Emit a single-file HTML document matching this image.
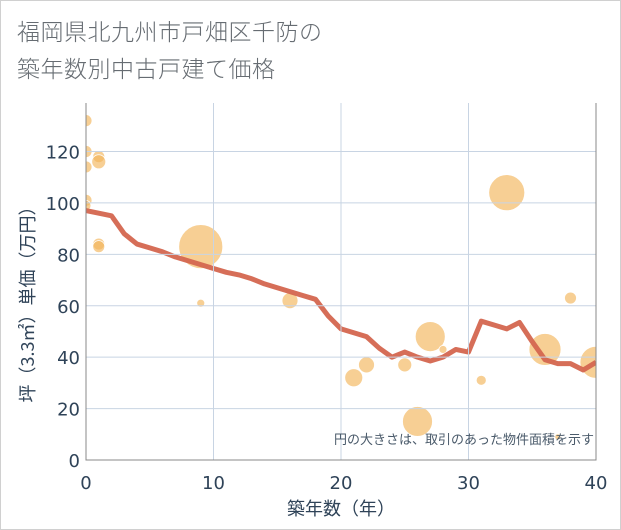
<!DOCTYPE html>
<html><head><meta charset="utf-8"><style>
body{margin:0;background:#fff;}
#wrap{position:relative;width:619px;height:528px;border:1px solid #d0d0d0;overflow:hidden;font-family:"DejaVu Sans","Noto Sans CJK JP",sans-serif;}
.title{position:absolute;left:16px;font-size:23px;color:#666c72;letter-spacing:0.5px;font-family:"Noto Sans CJK JP",sans-serif;font-weight:300;}
</style></head><body>
<div id="wrap">
<div class="title" style="top:12px">福岡県北九州市戸畑区千防の</div>
<div class="title" style="top:49px">築年数別中古戸建て価格</div>
<svg id="chart" width="621" height="530" style="position:absolute;left:-1px;top:-1px">
<defs><clipPath id="pc"><rect x="86" y="103" width="510" height="357"/></clipPath></defs>
<g id="plot" clip-path="url(#pc)"></g>
</svg>
</div>
<script>
const xTicks=[0,10,20,30,40];
const yTicks=[0,20,40,60,80,100,120];
const lineYears=[0,1,2,3,4,5,6,7,8,9,10,11,12,13,14,15,16,17,18,19,20,21,22,23,24,25,26,27,28,29,30,31,32,33,34,35,36,37,38,39,40];
const lineValues=[97,96,95,88,84,82.5,81,79,77.5,76,74.5,73,72,70.5,68.5,67,65.5,64,62.5,56,51,49.5,48,43.5,40,42,40,38.5,40,43,42,54,52.5,51,53.5,46,39,37.5,37.5,35,38];
const bubbleYears=[0,0,0,0,0,1,1,1,1,9,9,16,21,22,25,26,27,28,31,33,36,37,38,40];
const bubbleValues=[132,120,114,101,99,118,116,84,83,83,61,62,32,37,37,15,48,43,31,104,43,9,63,38];
const bubbleSizes=[6,6,6,6,5,6,7,6,6,22,4,8,9,8,7,15,15,4,5,18,16,3,6,16];
const X0=86,X1=596,Y0=460,YT=103;
const sx=v=>X0+(v-0)/40*(X1-X0);
const sy=v=>Y0-v/120*(Y0-151.5);
const svg=document.getElementById('chart');
const plot=document.getElementById('plot');
const NS='http://www.w3.org/2000/svg';
function mk(t,a,p){const e=document.createElementNS(NS,t);for(const k in a)e.setAttribute(k,a[k]);(p||svg).appendChild(e);return e;}
const FT='DejaVu Sans, Liberation Sans, sans-serif';
xTicks.forEach(t=>{
const l=mk('line',{x1:sx(t),x2:sx(t),y1:YT,y2:Y0,stroke:'#c8d4e3','stroke-width':1});


const tx=mk('text',{x:sx(t),y:489,'text-anchor':'middle','font-size':18,fill:'#2f4358','font-family':FT});
tx.textContent=t;


});
yTicks.forEach(t=>{
if(t>0){const l=mk('line',{x1:X0,x2:X1,y1:sy(t),y2:sy(t),stroke:'#c8d4e3','stroke-width':1});

}
const tx=mk('text',{x:80,y:sy(t)+7,'text-anchor':'end','font-size':18,fill:'#2f4358','font-family':FT});
tx.textContent=t;


});
const ax=mk('path',{d:`M${X0},${YT}V${Y0}H${X1}V${YT}`,fill:'none',stroke:'#888','stroke-width':1});


bubbleYears.forEach((yr,i)=>{
const c=mk('circle',{cx:sx(yr),cy:sy(bubbleValues[i]),r:bubbleSizes[i],fill:'#f2b55a','fill-opacity':0.65,stroke:'#fff','stroke-width':0.8},plot);


});
const pts=lineYears.map((y,i)=>sx(y)+','+sy(lineValues[i])).join(' ');
const pl=mk('polyline',{points:pts,fill:'none',stroke:'#d4664f','stroke-width':5,'stroke-linejoin':'round','stroke-opacity':0.95},plot);


const note=mk('text',{x:594,y:444,'text-anchor':'end','font-size':13,fill:'#4a5a6a','font-family':'Noto Sans CJK JP, sans-serif'});
note.textContent='円の大きさは、取引のあった物件面積を示す';


const xt=mk('text',{x:341,y:515,'text-anchor':'middle','font-size':18,fill:'#2f4358','font-family':'Noto Sans CJK JP, sans-serif'});
xt.textContent='築年数（年）';


const yt=mk('text',{x:0,y:0,'text-anchor':'middle','font-size':18,fill:'#2f4358','font-family':'Noto Sans CJK JP, sans-serif',transform:'translate(34,300) rotate(-90)'});
yt.textContent='坪（3.3㎡）単価（万円）';


</script>
</body></html>
